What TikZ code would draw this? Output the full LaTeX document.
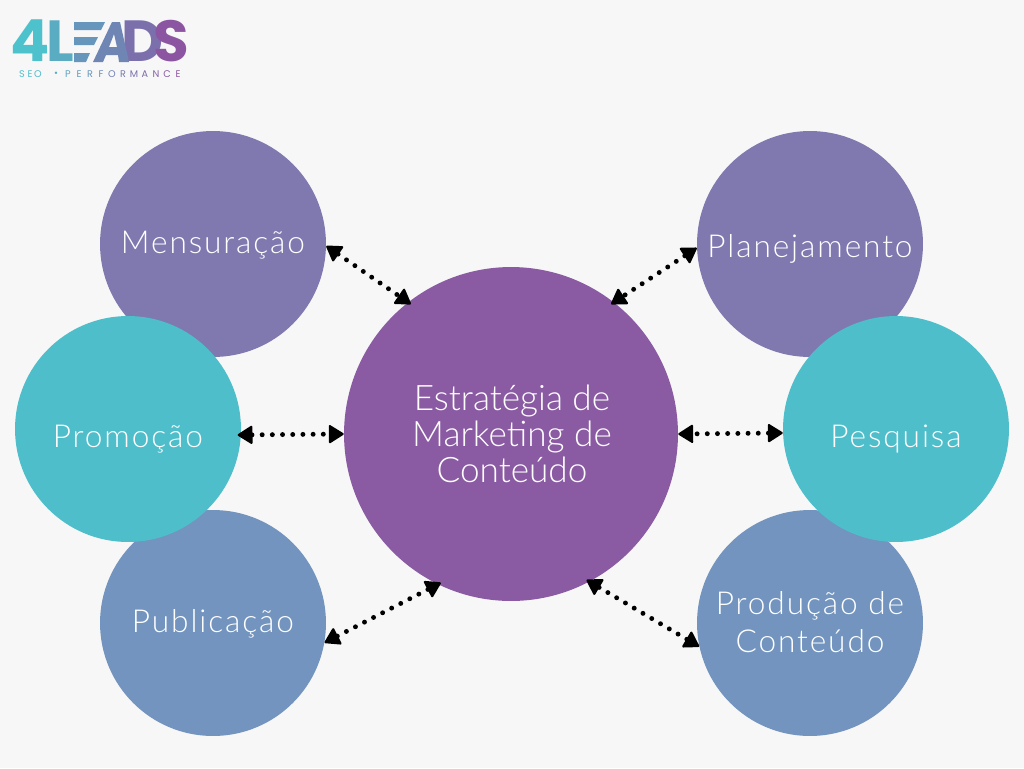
\documentclass[tikz,border=0pt]{standalone}
\usepackage{fontspec}
\usepackage{xcolor}
\usetikzlibrary{arrows.meta}
\setmainfont{Lato Light}
\newfontfamily\logofont{Poppins}
\definecolor{paper}{HTML}{F7F7F7}
\definecolor{corepurple}{HTML}{8A5BA2}
\definecolor{stepviolet}{HTML}{7F79AF}
\definecolor{stepteal}{HTML}{4FBECB}
\definecolor{stepblue}{HTML}{7294BE}
\definecolor{logoteal}{HTML}{4DC2CC}
\definecolor{logopurple}{HTML}{8B55A1}
\begin{document}
\begin{tikzpicture}[x=0.02cm, y=-0.02cm, >={Triangle[length=9pt,width=11pt,line width=1.2pt,round]},
 disc/.style={draw=none, circle, inner sep=0pt, minimum size=4.52cm},
 lbl/.style={font=\fontsize{18}{21.5}\selectfont\addfontfeature{LetterSpace=6}, text=white, align=center, inner sep=0pt},
 lnk/.style={<->, line width=2.8pt, black, dash pattern=on 0pt off 5.8pt, line cap=round, shorten >=-2pt},
 logoltr/.style={inner sep=0pt, font=\logofont\bfseries\fontsize{33}{33}\selectfont},
 logosub/.style={inner sep=0pt, font=\logofont\fontsize{5.5}{6}\selectfont}]
\useasboundingbox (0,0) rectangle (1024,768);
\fill[paper] (0,0) rectangle (1024,768);
% logo
\foreach \ch/\x/\pct in {4/30/100, L/60/80, D/143/25, S/171/0}
  \node[logoltr, text=logoteal!\pct!logopurple] (logo\ch) at (\x,41) {\ch};
\fill[logoteal!60!logopurple] (74,22) -- (105,22) -- (101,30) -- (74,30) -- cycle
  (74,37) -- (98,37) -- (94,45) -- (74,45) -- cycle
  (74,53) -- (90,53) -- (86,62) -- (74,62) -- cycle;
\fill[logoteal!45!logopurple, even odd rule] (93,62) -- (112,22) -- (120,22) -- (129,62) -- (119,62) -- (118,55) -- (106,55) -- (103,62) -- cycle
  (109,47) -- (114,34) -- (117,47) -- cycle;
\foreach \ch/\x/\pct in {S/22/100, E/30/96, O/38/90, •/56/80, P/68/72, E/79/65, R/90/58, F/101/50, O/112/42, R/123/34, M/134/26, A/145/18, N/156/12, C/167/6, E/178/0}
  \node[logosub, text=logoteal!\pct!logopurple] at (\x,74) {\ch};
% cercles
\node[disc, fill=stepviolet] (mens) at (213,244) {};
\node[disc, fill=stepblue]   (pub)  at (213,623) {};
\node[disc, fill=stepteal]   (prom) at (128,429) {};
\node[disc, fill=stepviolet] (plan) at (810,244) {};
\node[disc, fill=stepblue]   (prod) at (810,623) {};
\node[disc, fill=stepteal]   (pesq) at (896,429) {};
\node[disc, fill=corepurple, minimum size=6.68cm] (core) at (511,434) {};
% etiquettes
\node[lbl] (mensl) at (213,245) {Mensuração};
\node[lbl] (publ)  at (213,624) {Publicação};
\node[lbl] (proml) at (128,439) {Promoção};
\node[lbl] (planl) at (810,249) {Planejamento};
\node[lbl] (prodl) at (810,622) {Produção de\\Conteúdo};
\node[lbl] (pesql) at (896,439) {Pesquisa};
\node[lbl, font=\fontsize{20}{20.5}\selectfont] (corel) at (512,434) {Estratégia de\\Marketing de\\Conteúdo};
% liens
\draw[lnk] (mens.359) -- (core.128);
\draw[lnk] (plan.182) -- (core.52);
\draw[lnk, shorten <=-2pt, shorten >=0pt] (prom.357) -- (core.180);
\draw[lnk, shorten >=0pt] (pesq.182) -- (core.0);
\draw[lnk] (pub.350) -- (core.244);
\draw[lnk] (prod.192) -- (core.298);
\end{tikzpicture}
\end{document}
